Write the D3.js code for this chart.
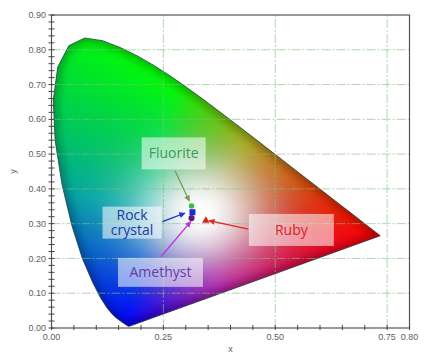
<!DOCTYPE html>
<html><head><meta charset="utf-8">
<script src="https://cdn.jsdelivr.net/npm/d3@7"></script>
<style>body{margin:0;background:#fff}svg{display:block}</style>
</head><body>
<script>
// CIE 1931 2° spectral locus, 380–700 nm every 5 nm
const locusX = [0.1741,0.1740,0.1738,0.1736,0.1733,0.1730,0.1726,0.1721,0.1714,0.1703,0.1689,0.1669,0.1644,0.1611,0.1566,0.1510,0.1440,0.1355,0.1241,0.1096,0.0913,0.0687,0.0454,0.0235,0.0082,0.0039,0.0139,0.0389,0.0743,0.1142,0.1547,0.1929,0.2296,0.2658,0.3016,0.3373,0.3731,0.4087,0.4441,0.4788,0.5125,0.5448,0.5752,0.6029,0.6270,0.6482,0.6658,0.6801,0.6915,0.7006,0.7079,0.7140,0.7190,0.7230,0.7260,0.7283,0.7300,0.7311,0.7320,0.7327,0.7334,0.7340,0.7344,0.7346,0.7347];
const locusY = [0.0050,0.0050,0.0049,0.0049,0.0048,0.0048,0.0048,0.0048,0.0051,0.0058,0.0069,0.0086,0.0109,0.0138,0.0177,0.0227,0.0297,0.0399,0.0578,0.0868,0.1327,0.2007,0.2950,0.4127,0.5384,0.6548,0.7502,0.8120,0.8338,0.8262,0.8059,0.7816,0.7543,0.7243,0.6923,0.6589,0.6245,0.5896,0.5547,0.5202,0.4866,0.4544,0.4242,0.3965,0.3725,0.3514,0.3340,0.3197,0.3083,0.2993,0.2920,0.2859,0.2809,0.2770,0.2740,0.2717,0.2700,0.2689,0.2680,0.2673,0.2666,0.2660,0.2656,0.2654,0.2653];

const xTickValues = [0, 0.25, 0.5, 0.75, 0.8];
const xTickLabels = ["0.00","0.25","0.50","0.75","0.80"];
const yTickValues = [0,0.1,0.2,0.3,0.4,0.5,0.6,0.7,0.8,0.9];
const yTickLabels = ["0.00","0.10","0.20","0.30","0.40","0.50","0.60","0.70","0.80","0.90"];
const xGridValues = [0.25, 0.5, 0.75];
const yGridValues = [0.1,0.2,0.3,0.4,0.5,0.6,0.7,0.8];
const xMinorValues = d3.range(0, 0.8001, 0.05);
const yMinorValues = d3.range(0, 0.9001, 0.02);

const gemNames = ["Fluorite", "Rock crystal", "Amethyst", "Ruby"];
const gemX = [0.313, 0.315, 0.313, 0.345];
const gemY = [0.351, 0.333, 0.316, 0.309];
// annotation anchors (data units)
const labelX = [0.273, 0.180, 0.2435, 0.536];
const labelY = [0.502, 0.303, 0.160, 0.282];
const arrowFromX = [0.276, 0.248, 0.2446, 0.440];
const arrowFromY = [0.452, 0.306, 0.205, 0.284];
const arrowToX = [0.308, 0.298, 0.311, 0.352];
const arrowToY = [0.365, 0.330, 0.306, 0.3085];

// styles
const textColors = ["#3a9a5c", "#1c3a9c", "#6a3aa4", "#d8202c"];
const arrowColors = ["#7a9a50", "#1a3ad0", "#c030e0", "#e02828"];
const markerColors = ["#2ec040", "#1a2ad8", "#5a1a80", "#e02020"];
const markerShapes = [d3.symbolCircle, d3.symbolSquare, d3.symbolCircle, d3.symbolTriangle];
const markerSizes = [22, 36, 30, 24];
const boxW = [64, 59, 85, 85];
const boxH = [32, 32, 29, 32];

const W = 431, H = 356;
const x = d3.scaleLinear().domain([0, 0.8]).range([51.5, 409.5]);
const y = d3.scaleLinear().domain([0, 0.9]).range([328, 15]);

const svg = d3.select("body").append("svg").attr("width", W).attr("height", H)
  .style("font-family", "'Liberation Sans', Arial, sans-serif");
const defs = svg.append("defs");

const locus = d3.range(locusX.length).map(i => [locusX[i], locusY[i]]);
const line = d3.line().x(d => x(d[0])).y(d => y(d[1]));
const locusPath = line(locus) + "Z";

defs.append("clipPath").attr("id", "locusClip").append("path").attr("d", locusPath);
defs.append("filter").attr("id", "blur").attr("x", "-20%").attr("y", "-20%").attr("width", "140%").attr("height", "140%")
  .append("feGaussianBlur").attr("stdDeviation", 4);

// chromaticity colouring (CIE RGB primaries)
function colorAt(cx, cy) {
  const X = cx / cy, Y = 1, Z = (1 - cx - cy) / cy;
  let r = 2.3646 * X - 0.8965 * Y - 0.4681 * Z;
  let g = -0.5152 * X + 1.4264 * Y + 0.0888 * Z;
  let b = 0.0052 * X - 0.0144 * Y + 1.0092 * Z;
  r = Math.max(r, 0); g = Math.max(g, 0); b = Math.max(b, 0);
  const m = Math.max(r, g, b, 1e-9), s = r + g + b + 1e-9;
  const L = Math.pow(m / s, 0.65);
  r = r / m * L; g = g / m * L; b = b / m * L;
  const d = Math.hypot((cx - 0.33) * 1.1, cy - 0.33);
  const w = Math.exp(-Math.pow(d / 0.16, 2));
  return [r * (1 - w) + w, g * (1 - w) + w, b * (1 - w) + w];
}
const canvas = document.createElement("canvas");
canvas.width = W; canvas.height = H;
const ctx = canvas.getContext("2d");
const img = ctx.createImageData(W, H);
for (let py = Math.floor(y(0.9)); py <= Math.ceil(y(0)); py++) {
  for (let px = Math.floor(x(0)); px <= Math.ceil(x(0.8)); px++) {
    const cx = x.invert(px + 0.5), cy = y.invert(py + 0.5);
    if (cy <= 0.002) continue;
    const c = colorAt(cx, cy);
    const k = (py * W + px) * 4;
    img.data[k] = Math.round(255 * Math.min(1, c[0]));
    img.data[k + 1] = Math.round(255 * Math.min(1, c[1]));
    img.data[k + 2] = Math.round(255 * Math.min(1, c[2]));
    img.data[k + 3] = 255;
  }
}
ctx.putImageData(img, 0, 0);

const fillG = svg.append("g").attr("clip-path", "url(#locusClip)");
fillG.append("image").attr("href", canvas.toDataURL()).attr("x", 0).attr("y", 0).attr("width", W).attr("height", H);
fillG.append("path").attr("d", locusPath).attr("fill", "none").attr("stroke", "#000")
  .attr("stroke-width", 8).attr("stroke-opacity", 0.32).attr("filter", "url(#blur)");
svg.append("path").attr("d", locusPath).attr("fill", "none").attr("stroke", "#1d3b3b")
  .attr("stroke-width", 1).attr("stroke-opacity", 0.75);

// grid
const grid = svg.append("g").attr("stroke", "#7fbf7f").attr("stroke-opacity", 0.7)
  .attr("stroke-width", 0.9).attr("stroke-dasharray", "9,2,2,2");
grid.selectAll(".gx").data(xGridValues).join("line")
  .attr("x1", d => x(d)).attr("x2", d => x(d)).attr("y1", y(0)).attr("y2", y(0.9));
grid.selectAll(".gy").data(yGridValues).join("line")
  .attr("x1", x(0)).attr("x2", x(0.8)).attr("y1", d => y(d)).attr("y2", d => y(d));

// frame
svg.append("rect").attr("x", x(0)).attr("y", y(0.9)).attr("width", x(0.8) - x(0)).attr("height", y(0) - y(0.9))
  .attr("fill", "none").attr("stroke", "#555").attr("stroke-width", 1.2);

// ticks
const tk = svg.append("g").attr("stroke", "#444").attr("stroke-width", 1);
tk.selectAll(".ym").data(yMinorValues).join("line")
  .attr("x1", x(0) - 3).attr("x2", x(0) + 3).attr("y1", d => y(d)).attr("y2", d => y(d));
tk.selectAll(".xm").data(xMinorValues).join("line")
  .attr("x1", d => x(d)).attr("x2", d => x(d)).attr("y1", y(0) - 3).attr("y2", y(0) + 2);

// tick labels
svg.append("g").selectAll("text").data(yTickValues).join("text")
  .attr("x", 46).attr("y", d => y(d)).attr("dy", "0.35em").attr("text-anchor", "end")
  .attr("font-size", 9).attr("fill", "#606060").text((d, i) => yTickLabels[i]);
svg.append("g").selectAll("text").data(xTickValues).join("text")
  .attr("x", d => x(d)).attr("y", 340).attr("text-anchor", "middle")
  .attr("font-size", 9).attr("fill", "#606060").text((d, i) => xTickLabels[i]);
svg.append("text").attr("x", (x(0) + x(0.8)) / 2).attr("y", 352).attr("text-anchor", "middle")
  .attr("font-size", 9).attr("fill", "#606060").text("x");
svg.append("text").attr("transform", `translate(16,${(y(0) + y(0.9)) / 2}) rotate(-90)`)
  .attr("text-anchor", "middle").attr("font-size", 9).attr("fill", "#606060").text("y");

// arrows
gemNames.forEach((n, i) => {
  defs.append("marker").attr("id", "ah" + i).attr("viewBox", "0 0 10 10").attr("refX", 9).attr("refY", 5)
    .attr("markerWidth", 7).attr("markerHeight", 6).attr("markerUnits", "userSpaceOnUse").attr("orient", "auto")
    .append("path").attr("d", "M0,0L10,5L0,10Z").attr("fill", arrowColors[i]);
});
svg.append("g").selectAll("line").data(gemNames).join("line")
  .attr("x1", (d, i) => x(arrowFromX[i])).attr("y1", (d, i) => y(arrowFromY[i]))
  .attr("x2", (d, i) => x(arrowToX[i])).attr("y2", (d, i) => y(arrowToY[i]))
  .attr("stroke", (d, i) => arrowColors[i]).attr("stroke-width", 1.3)
  .attr("marker-end", (d, i) => `url(#ah${i})`);

// markers
svg.append("g").selectAll("path").data(gemNames).join("path")
  .attr("transform", (d, i) => `translate(${x(gemX[i])},${y(gemY[i])})`)
  .attr("d", (d, i) => d3.symbol().type(markerShapes[i]).size(markerSizes[i])())
  .attr("fill", (d, i) => markerColors[i]);

// label boxes
const lab = svg.append("g").selectAll("g").data(gemNames).join("g")
  .attr("transform", (d, i) => `translate(${x(labelX[i])},${y(labelY[i])})`);
lab.append("rect").attr("x", (d, i) => -boxW[i] / 2).attr("y", (d, i) => -boxH[i] / 2)
  .attr("width", (d, i) => boxW[i]).attr("height", (d, i) => boxH[i])
  .attr("fill", "#fff").attr("fill-opacity", 0.55);
lab.each(function (d, i) {
  const words = d.split(" ");
  const lh = 14.5;
  const t = d3.select(this).append("text").attr("text-anchor", "middle")
    .attr("font-family", "'Open Sans', sans-serif").attr("font-size", 14)
    .attr("fill", textColors[i]);
  words.forEach((w, j) => {
    t.append("tspan").attr("x", 0).attr("y", (j - (words.length - 1) / 2) * lh)
      .attr("dy", "0.36em").text(w);
  });
});
</script>
</body></html>
